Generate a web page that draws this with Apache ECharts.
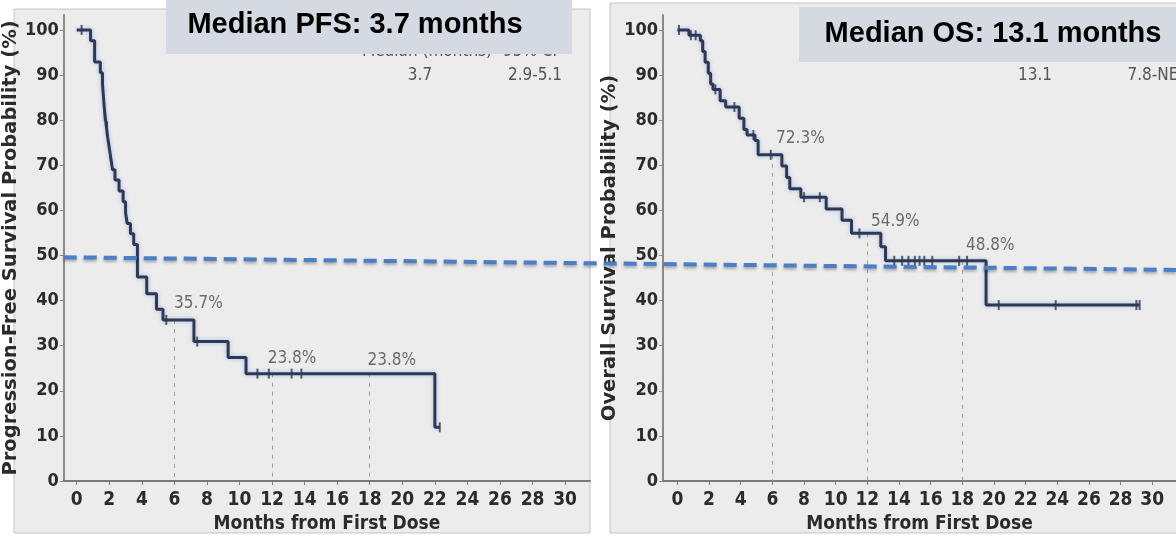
<!DOCTYPE html>
<html>
<head>
<meta charset="utf-8">
<script src="https://cdn.jsdelivr.net/npm/echarts@6/dist/echarts.min.js"></script>
<style>
html,body{margin:0;padding:0;background:#fff;}
#chart{width:1176px;height:539px;}
</style>
</head>
<body>
<div id="chart"></div>
<script>
// ---------- data ----------
const xTicks = [0,2,4,6,8,10,12,14,16,18,20,22,24,26,28,30];
const yTicks = [0,10,20,30,40,50,60,70,80,90,100];

const pfsTime = [0,0.85,1.1,1.45,1.58,1.63,1.68,1.74,1.82,1.9,2.0,2.1,2.2,2.35,2.6,2.85,3.0,3.1,3.3,3.5,3.73,4.3,4.9,5.3,7.2,9.3,10.4,22.0,22.3];
const pfsSurv = [100,97.6,92.9,90.5,88.1,85.7,83.3,81.0,78.6,76.2,73.8,71.4,69.0,66.7,64.3,61.9,59.5,57.1,54.8,52.4,45.2,41.5,38.1,35.7,30.9,27.4,23.8,11.9,11.9];
const pfsCensorTime = [0.3,1.72,1.86,5.5,7.4,11.1,11.8,13.2,13.8,22.3];
const pfsCensorSurv = [100,81.0,78.6,35.7,30.9,23.8,23.8,23.8,23.8,11.9];

const osTime = [0,0.73,1.45,1.6,1.75,1.95,2.1,2.25,2.7,3.05,3.9,4.2,4.4,4.9,5.1,6.6,6.9,7.1,7.8,9.4,10.4,11.0,12.85,13.15,19.5,29.2];
const osSurv = [100,98.8,97.6,95.2,92.8,90.4,88.0,86.8,84.3,82.9,80.4,77.9,76.7,75.5,72.3,69.8,67.3,64.8,62.9,60.3,57.8,54.9,51.9,48.8,39.0,39.0];
const osCensorTime = [0.1,0.85,1.15,2.4,3.6,4.8,5.9,8.0,9.0,11.5,13.7,14.2,14.6,15.0,15.3,15.6,16.1,17.8,18.3,20.3,23.9,29.0,29.2];
const osCensorSurv = [100,98.8,98.8,86.8,82.9,76.7,72.3,62.9,62.9,54.9,48.8,48.8,48.8,48.8,48.8,48.8,48.8,48.8,48.8,39.0,39.0,39.0,39.0];

// landmark estimates (month, %)
const pfsLandmarkTime = [6,12,18];
const pfsLandmarkSurv = [35.7,23.8,23.8];
const pfsLandmarkText = ['35.7%','23.8%','23.8%'];
const osLandmarkTime = [6,12,18];
const osLandmarkSurv = [72.3,54.9,48.8];
const osLandmarkText = ['72.3%','54.9%','48.8%'];

const medianPFS = 'Median PFS: 3.7 months';
const medianOS = 'Median OS: 13.1 months';

// ---------- styles ----------
const NARROW = "'Liberation Sans Narrow','DejaVu Sans Condensed','Arial Narrow',sans-serif";
const CURVE = '#2d3855';

function zip(a,b){return a.map((v,i)=>[v,b[i]]);}

function xAxisCfg(gi, min, max){
  return {
    gridIndex: gi, type:'value', min:min, max:max, minInterval:2, maxInterval:2,
    name:'Months from First Dose', nameLocation:'middle', nameGap:34,
    nameTextStyle:{fontFamily:NARROW, fontWeight:'bold', fontSize:19, color:'#2b2b2b'},
    axisLine:{show:true, onZero:false, lineStyle:{color:'#7a7a7a', width:2}},
    axisTick:{show:true, length:4, lineStyle:{color:'#7a7a7a'}},
    axisLabel:{interval:0, showMinLabel:false, showMaxLabel:false, margin:10,
      fontFamily:NARROW, fontWeight:'bold', fontSize:19, color:'#2b2b2b',
      formatter:v => (xTicks.indexOf(v) >= 0 ? String(v) : '')},
    splitLine:{show:false}
  };
}
function yAxisCfg(gi, name){
  return {
    gridIndex: gi, type:'value', min:0, max:103.3, minInterval:10, maxInterval:10,
    name:name, nameLocation:'middle', nameGap:29,
    nameTextStyle:{fontFamily:"'DejaVu Sans',sans-serif", fontWeight:'bold', fontSize:19.5, color:'#2b2b2b'},
    axisLine:{show:true, onZero:false, lineStyle:{color:'#8a8a8a', width:2}},
    axisTick:{show:true, length:4, lineStyle:{color:'#8a8a8a'}},
    axisLabel:{showMaxLabel:false, margin:5,
      fontFamily:NARROW, fontWeight:'bold', fontSize:18, color:'#2b2b2b',
      formatter:v => (yTicks.indexOf(v) >= 0 ? String(v) : '')},
    splitLine:{show:false}
  };
}
function curveSeries(gi, t, s, lmT, lmS){
  return {
    type:'line', xAxisIndex:gi, yAxisIndex:gi, step:'end', data:zip(t,s),
    symbol:'none', z:5,
    lineStyle:{color:CURVE, width:3, shadowColor:'rgba(110,140,210,0.55)', shadowBlur:4},
    markLine:{
      silent:true, symbol:['none','none'], label:{show:false},
      lineStyle:{type:[4,5], color:'#a0a0a0', width:1},
      data: lmT.map((x,i)=>[{coord:[x,lmS[i]]},{coord:[x,0]}])
    }
  };
}
function censorSeries(gi, t, s){
  return {
    type:'scatter', xAxisIndex:gi, yAxisIndex:gi, data:zip(t,s),
    symbol:'rect', symbolSize:[2,10], z:6,
    itemStyle:{color:CURVE}
  };
}
function landmarkLabels(gi, t, s, txt, offs){
  return {
    type:'scatter', xAxisIndex:gi, yAxisIndex:gi, symbolSize:0, z:7, silent:true,
    data: t.map((x,i)=>({value:[x,s[i]], name:txt[i], label:{offset:offs[i]}})),
    label:{show:true, position:'inside', formatter:p=>p.name, fontFamily:NARROW, fontSize:17, color:'#4a4a4a'}
  };
}

const chart = echarts.init(document.getElementById('chart'), null, {renderer:'canvas'});

const option = {
  backgroundColor:'#ffffff',
  animation:false,
  grid:[
    {left:62, top:15, width:528, height:467},
    {left:663, top:15, width:535, height:468}
  ],
  xAxis:[ xAxisCfg(0, -0.8, 31.53), xAxisCfg(1, -0.91, 31.5) ],
  yAxis:[ yAxisCfg(0, 'Progression-Free Survival Probability (%)'), yAxisCfg(1, 'Overall Survival Probability (%)') ],
  series:[
    curveSeries(0, pfsTime, pfsSurv, pfsLandmarkTime, pfsLandmarkSurv),
    censorSeries(0, pfsCensorTime, pfsCensorSurv),
    landmarkLabels(0, pfsLandmarkTime, pfsLandmarkSurv, pfsLandmarkText, [[24,-16],[20,-15],[22,-13]]),
    curveSeries(1, osTime, osSurv, osLandmarkTime, osLandmarkSurv),
    censorSeries(1, osCensorTime, osCensorSurv),
    landmarkLabels(1, osLandmarkTime, osLandmarkSurv, osLandmarkText, [[28,-16],[28,-12],[28,-15]])
  ]
};
chart.setOption(option);

// ---------- decorations ----------
const p0 = chart.convertToPixel({gridIndex:0}, [-0.8, 49.6]);
const p1 = chart.convertToPixel({gridIndex:1}, [30.2, 46.8]);
const SMALL = "17px " + NARROW;

const graphics = [
  {type:'rect', z:-10, shape:{x:14, y:9, width:576, height:524}, style:{fill:'#ececec', stroke:'#c4c4c4', lineWidth:1}},
  {type:'rect', z:-10, shape:{x:610, y:3, width:580, height:530}, style:{fill:'#ececec', stroke:'#c4c4c4', lineWidth:1}},
  // partially hidden table header
  {type:'text', z:50, style:{x:427, y:52, text:'Median (months)', textAlign:'center', textVerticalAlign:'middle', font:SMALL, fill:'#555'}},
  {type:'text', z:50, style:{x:530, y:52, text:'95% CI', textAlign:'center', textVerticalAlign:'middle', font:SMALL, fill:'#555'}},
  {type:'text', z:50, style:{x:420, y:76, text:'3.7', textAlign:'center', textVerticalAlign:'middle', font:SMALL, fill:'#555'}},
  {type:'text', z:50, style:{x:535, y:76, text:'2.9-5.1', textAlign:'center', textVerticalAlign:'middle', font:SMALL, fill:'#555'}},
  {type:'text', z:50, style:{x:1035, y:76, text:'13.1', textAlign:'center', textVerticalAlign:'middle', font:SMALL, fill:'#555'}},
  {type:'text', z:50, style:{x:1153, y:76, text:'7.8-NE', textAlign:'center', textVerticalAlign:'middle', font:SMALL, fill:'#555'}},
  // title boxes
  {type:'rect', z:100, shape:{x:166, y:0, width:406, height:54}, style:{fill:'#d5d9e1'}},
  {type:'text', z:101, style:{x:355, y:25, text:medianPFS, textAlign:'center', textVerticalAlign:'middle', font:"bold 29px 'Liberation Sans',Arial,sans-serif", fill:'#000'}},
  {type:'rect', z:100, shape:{x:799, y:7, width:380, height:55}, style:{fill:'#d5d9e1'}},
  {type:'text', z:101, style:{x:993, y:34, text:medianOS, textAlign:'center', textVerticalAlign:'middle', font:"bold 29px 'Liberation Sans',Arial,sans-serif", fill:'#000'}},
  // 50% reference dashed line across both panels
  {type:'line', z:200, shape:{x1:p0[0], y1:p0[1], x2:1176, y2:p1[1]},
   style:{stroke:'#4a7ec6', lineWidth:4, lineDash:[13,7], shadowColor:'rgba(0,0,0,0.3)', shadowBlur:3, shadowOffsetY:2}}
];
chart.setOption({graphic:graphics});
</script>
</body>
</html>
